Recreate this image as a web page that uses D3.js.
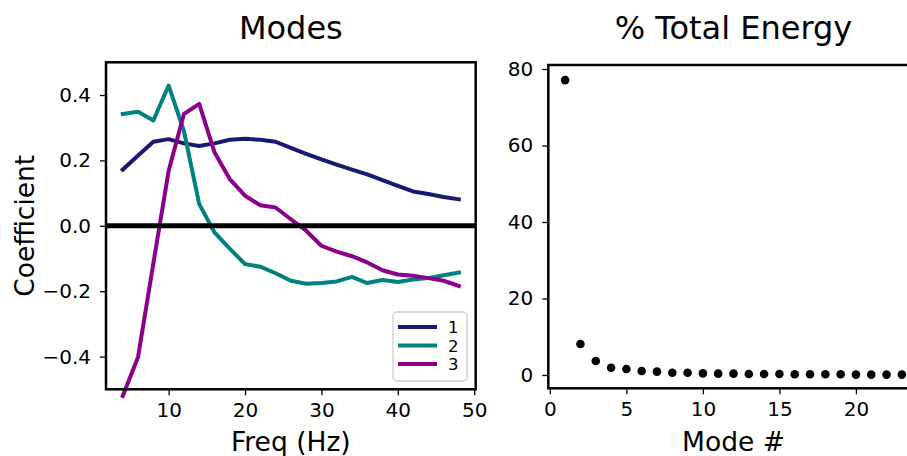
<!DOCTYPE html>
<html>
<head>
<meta charset="utf-8">
<script src="https://cdn.jsdelivr.net/npm/d3@7"></script>
<style>
  body { margin: 0; background: #fff; }
  svg { display: block; font-family: "DejaVu Sans", sans-serif; }
</style>
</head>
<body>
<svg id="chart" width="907" height="456"></svg>
<script>
// data
const freqs = [4, 6, 8, 10, 12, 14, 16, 18, 20, 22, 24, 26, 28, 30, 32, 34, 36, 38, 40, 42, 44, 46, 48];
const mode1 = [0.172, 0.215, 0.257, 0.265, 0.252, 0.244, 0.252, 0.263, 0.266, 0.263, 0.257, 0.238, 0.220, 0.203, 0.187, 0.172, 0.157, 0.140, 0.122, 0.105, 0.097, 0.088, 0.081];
const mode2 = [0.342, 0.349, 0.322, 0.429, 0.290, 0.067, -0.020, -0.070, -0.117, -0.125, -0.145, -0.168, -0.177, -0.175, -0.170, -0.156, -0.175, -0.166, -0.172, -0.164, -0.160, -0.151, -0.143];
const mode3 = [-0.520, -0.401, -0.115, 0.168, 0.342, 0.373, 0.225, 0.143, 0.092, 0.063, 0.056, 0.020, -0.015, -0.061, -0.079, -0.093, -0.112, -0.136, -0.149, -0.153, -0.160, -0.168, -0.184];
const modeNames = ['1', '2', '3'];
const modeColors = ['#191970', '#008080', '#8b008b'];

const modeNums = d3.range(1, 24);
const energy = [77.1, 8.1, 3.65, 1.9, 1.57, 1.04, 0.87, 0.6, 0.6, 0.43, 0.35, 0.35, 0.26, 0.26, 0.26, 0.2, 0.2, 0.2, 0.2, 0.1, 0.1, 0.1, 0.1];

const leftXTicks = [10, 20, 30, 40, 50];
const leftYTicks = [-0.4, -0.2, 0.0, 0.2, 0.4];
const rightXTicks = [0, 5, 10, 15, 20];
const rightYTicks = [0, 20, 40, 60, 80];

const svg = d3.select('#chart');
svg.append('rect').attr('width', 907).attr('height', 456).attr('fill', '#fff');

const minus = (s) => s.replace('-', '\u2212');

function styleAxis(g) {
  g.select('.domain').remove();
  g.selectAll('.tick line').attr('stroke', '#000').attr('stroke-width', 1.3);
  g.selectAll('.tick text')
    .attr('fill', '#000')
    .attr('font-size', 20)
    .attr('font-family', '"DejaVu Sans", sans-serif');
}

// ---------- Left panel: Modes ----------
const L = { left: 106, right: 475.7, top: 62.3, bottom: 389.3 };
const xL = d3.scaleLinear().domain([1.8, 50.2]).range([L.left, L.right]);
const yL = d3.scaleLinear().domain([-0.5, 0.5]).range([L.bottom, L.top]);

svg.append('g')
  .attr('transform', `translate(0,${L.bottom})`)
  .call(d3.axisBottom(xL).tickValues(leftXTicks).tickSize(6).tickPadding(8).tickFormat(d3.format('d')))
  .call(styleAxis);

svg.append('g')
  .attr('transform', `translate(${L.left},0)`)
  .call(d3.axisLeft(yL).tickValues(leftYTicks).tickSize(6).tickPadding(9).tickFormat((d) => minus(d3.format('.1f')(d))))
  .call(styleAxis);

const lineGen = d3.line().x((d) => xL(d[0])).y((d) => yL(d[1]));
[mode1, mode2, mode3].forEach((vals, i) => {
  svg.append('path')
    .datum(freqs.map((f, j) => [f, vals[j]]))
    .attr('d', lineGen)
    .attr('fill', 'none')
    .attr('stroke', modeColors[i])
    .attr('stroke-width', 4)
    .attr('stroke-linejoin', 'round')
    .attr('stroke-linecap', 'square');
});

// zero line
svg.append('line')
  .attr('x1', L.left).attr('x2', L.right)
  .attr('y1', yL(0)).attr('y2', yL(0))
  .attr('stroke', '#000').attr('stroke-width', 5);

svg.append('rect')
  .attr('x', L.left).attr('y', L.top)
  .attr('width', L.right - L.left).attr('height', L.bottom - L.top)
  .attr('fill', 'none').attr('stroke', '#000').attr('stroke-width', 2.5);

// legend
const leg = svg.append('g').attr('transform', 'translate(393,312)');
leg.append('rect')
  .attr('width', 74).attr('height', 69).attr('rx', 4)
  .attr('fill', '#fff').attr('fill-opacity', 0.8)
  .attr('stroke', '#d0d0d0').attr('stroke-width', 1.3);
modeNames.forEach((name, i) => {
  const yy = 15 + i * 18.5;
  leg.append('line')
    .attr('x1', 5).attr('x2', 44).attr('y1', yy).attr('y2', yy)
    .attr('stroke', modeColors[i]).attr('stroke-width', 4);
  leg.append('text')
    .attr('x', 55).attr('y', yy + 6)
    .attr('font-size', 16.5).attr('fill', '#000')
    .text(name);
});

svg.append('text')
  .attr('x', (L.left + L.right) / 2).attr('y', 39)
  .attr('text-anchor', 'middle').attr('font-size', 32).attr('fill', '#000')
  .text('Modes');
svg.append('text')
  .attr('x', (L.left + L.right) / 2).attr('y', 451)
  .attr('text-anchor', 'middle').attr('font-size', 26.5).attr('fill', '#000')
  .text('Freq (Hz)');
svg.append('text')
  .attr('transform', `translate(34,${(L.top + L.bottom) / 2}) rotate(-90)`)
  .attr('text-anchor', 'middle').attr('font-size', 26.5).attr('fill', '#000')
  .text('Coefficient');

// ---------- Right panel: % Total Energy ----------
const R = { left: 548.3, right: 918.7, top: 65, bottom: 388.3 };
const xR = d3.scaleLinear().domain([-0.1, 24.1]).range([R.left, R.right]);
const yR = d3.scaleLinear().domain([-3.48, 81.05]).range([R.bottom, R.top]);

svg.append('g')
  .attr('transform', `translate(0,${R.bottom})`)
  .call(d3.axisBottom(xR).tickValues(rightXTicks).tickSize(6).tickPadding(8).tickFormat(d3.format('d')))
  .call(styleAxis);

svg.append('g')
  .attr('transform', `translate(${R.left},0)`)
  .call(d3.axisLeft(yR).tickValues(rightYTicks).tickSize(6).tickPadding(9).tickFormat(d3.format('d')))
  .call(styleAxis);

svg.append('g')
  .selectAll('circle')
  .data(modeNums)
  .enter()
  .append('circle')
  .attr('cx', (d) => xR(d))
  .attr('cy', (d, i) => yR(energy[i]))
  .attr('r', 4.3)
  .attr('fill', '#000');

svg.append('rect')
  .attr('x', R.left).attr('y', R.top)
  .attr('width', R.right - R.left).attr('height', R.bottom - R.top)
  .attr('fill', 'none').attr('stroke', '#000').attr('stroke-width', 2.5);

svg.append('text')
  .attr('x', (R.left + R.right) / 2).attr('y', 39)
  .attr('text-anchor', 'middle').attr('font-size', 32).attr('fill', '#000')
  .text('% Total Energy');
svg.append('text')
  .attr('x', (R.left + R.right) / 2).attr('y', 451)
  .attr('text-anchor', 'middle').attr('font-size', 26.5).attr('fill', '#000')
  .text('Mode #');
</script>
</body>
</html>
